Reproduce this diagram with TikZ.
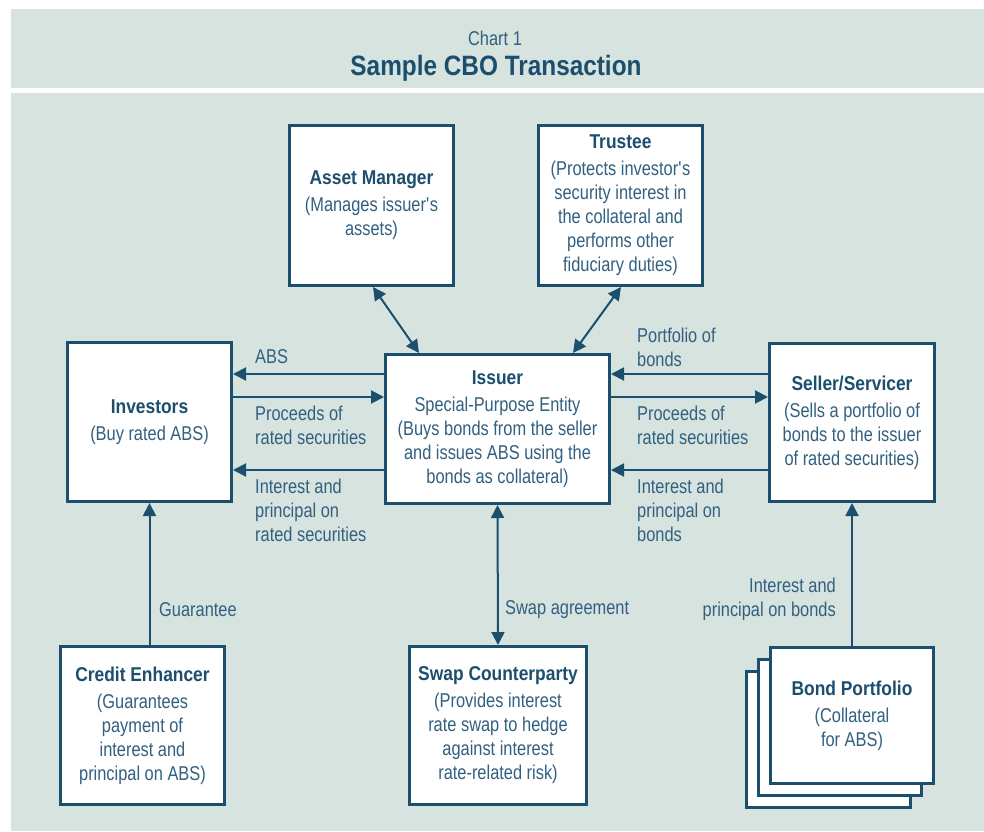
\documentclass[tikz,border=0pt]{standalone}
\usepackage{fontspec}
\setmainfont[FakeStretch=0.82, BoldFeatures={FakeStretch=0.87}]{Liberation Sans}
\usetikzlibrary{arrows.meta}

\definecolor{cbobg}{RGB}{214,227,223}
\definecolor{cboink}{RGB}{28,78,110}
\definecolor{cbotxt}{RGB}{50,96,128}

\tikzset{
	box/.style={draw=cboink, line width=3pt, fill=white, align=center, inner sep=0pt, text=cbotxt, font=\fontsize{20}{24}\selectfont},
	lbl/.style={text=cbotxt, inner sep=0pt, font=\fontsize{20}{24}\selectfont},
	flow/.style={draw=cboink, line width=2pt, -{Triangle[length=13pt,width=13pt]}},
	both/.style={draw=cboink, line width=2pt, {Triangle[length=13pt,width=13pt]}-{Triangle[length=13pt,width=13pt]}},
}
\newcommand{\hd}[1]{\textbf{\color{cboink}#1}\\[3pt]}

\begin{document}
\begin{tikzpicture}[x=1pt, y=-1pt]
			%%%%% START %%%%%
			\useasboundingbox (0,0) rectangle (984,831);
			\fill[cbobg] (11,9) rectangle (984,88);
			\fill[cbobg] (11,93) rectangle (984,831);
			
			\node[lbl] (chart) at (495,38) {Chart 1};
			\node[lbl, text=cboink, font=\fontsize{28}{32}\selectfont\bfseries] (title) at (496,68) {Sample CBO Transaction};
			
			% boxes
			\node[box, minimum width=164pt, minimum height=159pt] (inv) at (149.5,422) {\hd{Investors}(Buy rated ABS)};
			\node[box, minimum width=164pt, minimum height=160pt] (am) at (371.5,205.5) {\hd{Asset Manager}(Manages issuer\textquotesingle s\\assets)};
			\node[box, minimum width=164pt, minimum height=160pt] (tru) at (620.5,205.5) {\hd{Trustee}(Protects investor\textquotesingle s\\security interest in\\the collateral and\\performs other\\fiduciary duties)};
			\node[box, minimum width=224pt, minimum height=149pt] (iss) at (497.5,429) {\hd{Issuer}Special-Purpose Entity\\(Buys bonds from the seller\\and issues ABS using the\\bonds as collateral)};
			\node[box, minimum width=165pt, minimum height=158pt] (sel) at (852,422.5) {\hd{Seller/Servicer}(Sells a portfolio of\\bonds to the issuer\\of rated securities)};
			\node[box, minimum width=164pt, minimum height=158pt] (ce) at (142.5,725.5) {\hd{Credit Enhancer}(Guarantees\\payment of\\interest and\\principal on ABS)};
			\node[box, minimum width=177pt, minimum height=158pt] (sc) at (498,725.5) {\hd{Swap Counterparty}(Provides interest\\rate swap to hedge\\against interest\\rate-related risk)};
			\node[box, minimum width=164pt, minimum height=136pt] (bp3) at (828.5,739) {};
			\node[box, minimum width=163pt, minimum height=136pt] (bp2) at (840,727.5) {};
			\node[box, minimum width=163pt, minimum height=136pt] (bp) at (852,715.5) {\hd{Bond Portfolio}(Collateral\\for ABS)};
			
			% issuer <-> investors
			\draw[flow] (iss.west |- 0,374) -- (inv.east |- 0,374);
			\draw[flow] (inv.east |- 0,397) -- (iss.west |- 0,397);
			\draw[flow] (iss.west |- 0,470) -- (inv.east |- 0,470);
			\node[lbl, anchor=west] (l1) at (255,357) {ABS};
			\node[lbl, anchor=west, align=left] (l2) at (255,425) {Proceeds of\\rated securities};
			\node[lbl, anchor=west, align=left] (l3) at (255,510) {Interest and\\principal on\\rated securities};
			
			% seller <-> issuer
			\draw[flow] (sel.west |- 0,374) -- (iss.east |- 0,374);
			\draw[flow] (iss.east |- 0,397) -- (sel.west |- 0,397);
			\draw[flow] (sel.west |- 0,470) -- (iss.east |- 0,470);
			\node[lbl, anchor=west, align=left] (r1) at (637,347) {Portfolio of\\bonds};
			\node[lbl, anchor=west, align=left] (r2) at (637,425) {Proceeds of\\rated securities};
			\node[lbl, anchor=west, align=left] (r3) at (637,510) {Interest and\\principal on\\bonds};
			
			% top and bottom links
			\draw[both] ([xshift=1.5pt]am.south) -- ([xshift=-78.5pt]iss.north);
			\draw[both] ([xshift=0.5pt]tru.south) -- ([xshift=75.5pt]iss.north);
			\draw[flow] (inv.south |- ce.north) -- (inv.south);
			\node[lbl, anchor=west] (g) at (159,610) {Guarantee};
			\draw[both] (iss.south) -- (sc.north);
			\node[lbl, anchor=west] (sw) at (505,610) {Swap agreement};
			\draw[flow] (bp.north) -- (sel.south);
			\node[lbl, anchor=east, align=right] (b) at (836,599) {Interest and\\principal on bonds};
			%%%%% END %%%%%
\end{tikzpicture}
\end{document}
